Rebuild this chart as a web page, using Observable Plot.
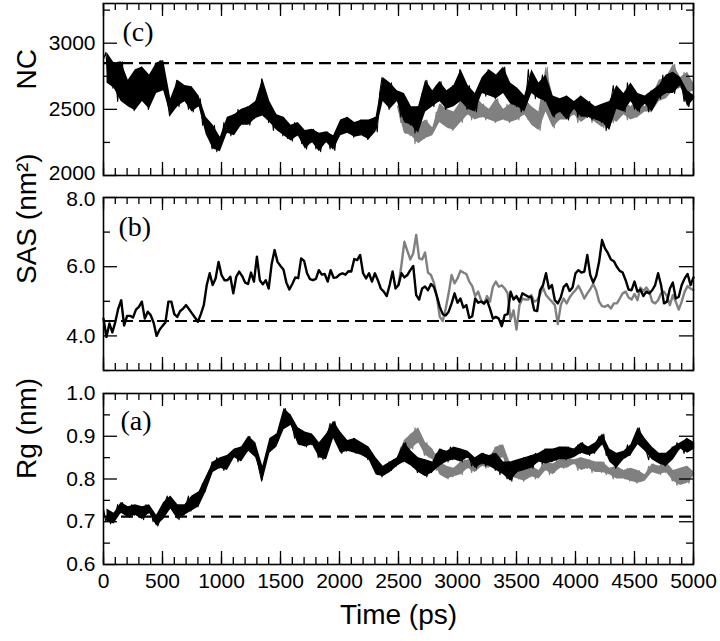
<!DOCTYPE html>
<html><head><meta charset="utf-8">
<script src="https://cdn.jsdelivr.net/npm/d3@7"></script>
<script src="https://cdn.jsdelivr.net/npm/@observablehq/plot@0.6"></script>
<style>
body{margin:0;background:#fff;}
#wrap{position:relative;width:720px;height:641px;background:#fff;}
#wrap svg{position:absolute;left:0;overflow:visible;}
</style></head><body><div id="wrap"></div>
<script>
// ---------------- DATA ----------------
const noisyStep = 20;   // ps between samples of NC and Rg traces
const sasStep = 25;     // ps between samples of SAS traces
const grayStart = 2500; // ps where the gray run begins

// (c) NC, black run, t = 0..5000
const ncBlack = [
2880,2930,2700,2850,2660, 2790,2560,2760,2860,2600, 2720,2520,2690,2490,2800, 2580,2820,2560,2700,2500,
2760,2620,2850,2700,2870, 2760,2640,2580,2450,2520, 2600,2720,2520,2680,2560, 2640,2500,2670,2480,2600,
2520,2580,2380,2440,2310, 2320,2200,2380,2180,2290, 2250,2400,2320,2440,2300, 2460,2350,2500,2380,2440,
2400,2520,2380,2490,2430, 2560,2480,2730,2450,2560, 2400,2500,2340,2460,2380, 2440,2300,2400,2280,2380,
2260,2400,2300,2360,2240, 2340,2200,2300,2250,2350, 2200,2320,2180,2300,2250, 2330,2200,2300,2190,2340,
2300,2420,2360,2440,2320, 2400,2290,2380,2330,2420, 2300,2380,2270,2420,2340, 2440,2330,2620,2740,2560,
2650,2500,2700,2560,2640, 2560,2440,2620,2400,2520, 2380,2480,2320,2520,2460, 2620,2480,2720,2560,2640,
2520,2680,2560,2710,2580, 2500,2640,2520,2680,2560, 2620,2800,2560,2640,2500, 2680,2540,2620,2480,2640,
2620,2740,2600,2800,2680, 2700,2580,2760,2620,2720, 2820,2600,2700,2540,2660, 2520,2640,2480,2600,2560,
2800,2620,2740,2580,2700, 2640,2760,2560,2700,2600, 2540,2440,2580,2480,2520, 2460,2600,2420,2540,2500,
2560,2440,2600,2480,2520, 2440,2560,2420,2520,2460, 2500,2400,2540,2340,2480, 2560,2680,2500,2640,2560,
2620,2480,2700,2560,2600, 2500,2620,2480,2580,2540, 2600,2480,2640,2520,2600, 2680,2580,2760,2620,2700,
2660,2780,2620,2740,2680, 2700,2560,2640,2520,2600, 2580];
// (c) NC, gray run, t = 2500..5000
const ncGray = [
2520,2400,2560,2320,2440, 2300,2420,2240,2380,2260, 2380,2280,2420,2300,2360, 2340,2480,2400,2540,2420,
2500,2360,2460,2340,2480, 2420,2560,2400,2520,2460, 2540,2420,2600,2460,2520, 2440,2540,2420,2500,2460,
2520,2400,2580,2440,2500, 2420,2540,2400,2500,2460, 2540,2420,2580,2460,2500, 2420,2520,2380,2480,2440,
2340,2480,2560,2820,2600, 2460,2360,2520,2420,2500, 2440,2560,2420,2520,2460, 2500,2400,2540,2440,2480,
2440,2540,2400,2500,2460, 2420,2520,2360,2480,2440, 2500,2400,2560,2440,2480, 2460,2560,2420,2520,2480,
2540,2440,2580,2480,2520, 2500,2600,2480,2580,2560, 2620,2720,2580,2740,2680, 2760,2640,2840,2680,2740,
2660,2780,2620,2740,2680, 2640];

// (b) SAS, black run, t = 0..5000
const sasBlack = [
4.50,3.97,4.36,4.10,4.40,4.79,5.03,4.30,4.58,4.58, 4.53,4.76,4.84,4.99,4.50,4.70,4.60,4.38,4.00,4.18,
4.29,4.39,4.99,4.99,4.63,4.55,4.72,4.79,4.89,4.77, 4.65,4.53,4.41,4.63,4.89,5.47,5.81,5.47,5.66,6.14,
5.76,5.61,5.61,5.71,5.23,5.71,5.86,5.73,5.54,5.50, 5.83,5.57,6.29,5.61,5.49,5.61,5.37,6.08,6.48,6.14,
6.02,5.92,5.54,5.34,5.50,5.69,5.67,6.24,6.17,5.81, 5.64,5.61,5.65,5.90,5.77,5.79,5.57,5.90,5.68,5.69,
5.77,5.81,5.77,5.87,5.86,6.22,6.19,6.34,
5.81,5.66,5.81,5.57,5.81,5.61,5.37,5.28,5.15,5.47, 5.86,5.37,5.47,5.81,5.69,5.76,5.90,6.02,5.18,5.05,
5.37,5.43,5.32,5.50,5.42,5.15,4.84,4.63,4.59,4.70, 4.94,5.23,4.96,5.08,4.82,4.89,4.52,4.57,5.08,4.96,
4.99,4.94,5.03,4.79,4.50,4.55,4.50,4.28,4.60,4.63, 5.28,5.05,5.15,4.99,5.23,5.18,5.13,5.13,4.74,4.72,
5.32,5.47,5.81,5.37,5.47,5.03,4.94,5.11,5.42,5.50, 5.30,5.40,5.81,5.90,5.83,5.86,6.34,5.76,5.54,5.73,
6.14,6.77,6.53,6.39,6.21,6.16,6.00,5.88,5.83,5.61, 5.34,5.32,5.57,5.28,5.34,5.15,5.28,5.23,5.32,5.47,
5.81,5.47,4.94,4.99,5.37,5.54,5.08,5.13,5.47,5.66, 5.79,5.47,5.69];
// (b) SAS, gray run, t = 2500..5000
const sasGray = [
5.47,6.05,6.72,6.46,6.21,6.39,6.92,6.24,6.21,6.41, 5.83,5.76,5.54,5.13,4.55,4.43,4.79,5.23,5.76,5.52,
5.66,5.88,5.83,5.79,5.57,5.44,5.15,5.28,5.03,4.92, 5.15,4.99,5.42,5.57,5.42,5.46,5.37,5.23,4.47,4.74,
4.18,4.89,5.08,5.05,5.05,5.18,4.99,5.03,5.21,5.40, 5.18,5.08,4.99,4.89,4.34,4.89,5.08,4.94,5.11,5.23,
5.32,5.45,5.28,5.08,5.23,5.35,5.50,5.32,4.99,4.86, 4.84,4.89,4.79,4.94,4.94,5.08,5.23,5.28,5.11,5.05,
5.21,5.03,5.40,5.30,5.40,5.28,4.99,4.94,5.03,5.23, 5.28,5.15,4.89,5.18,4.99,4.76,4.99,5.28,5.44,5.37,
5.32];

// (a) Rg, black run, t = 0..5000
const rgBlack = [
.730,.700,.725,.695,.720, .715,.740,.720,.745,.725, .735,.710,.740,.715,.730, .710,.735,.705,.740,.720,
.725,.700,.715,.690,.705, .715,.745,.760,.730,.750, .720,.740,.705,.735,.715, .740,.760,.725,.755,.745,
.735,.770,.790,.770,.805, .815,.840,.820,.850,.825, .845,.820,.855,.835,.860, .850,.870,.840,.875,.855,
.880,.865,.900,.870,.885, .850,.820,.795,.830,.860, .870,.895,.875,.905,.890, .915,.935,.965,.940,.950,
.925,.895,.920,.880,.910, .895,.875,.905,.880,.900, .885,.850,.875,.845,.880, .905,.930,.895,.935,.910,
.880,.860,.890,.865,.880, .870,.895,.860,.885,.870, .855,.875,.845,.865,.850, .835,.810,.830,.805,.825,
.815,.840,.820,.845,.830, .850,.870,.840,.885,.860, .865,.830,.850,.815,.835, .820,.845,.805,.830,.815,
.840,.860,.830,.870,.850, .865,.840,.875,.845,.860, .845,.870,.840,.865,.850, .855,.830,.850,.825,.845,
.835,.860,.830,.855,.840, .860,.820,.845,.810,.840, .825,.800,.840,.795,.825, .815,.845,.820,.850,.830,
.835,.855,.825,.860,.840, .855,.835,.870,.845,.860, .840,.870,.845,.875,.855, .865,.845,.875,.850,.870,
.855,.880,.860,.885,.865, .875,.855,.880,.860,.885, .900,.880,.905,.855,.870, .840,.860,.825,.855,.845,
.865,.850,.880,.855,.870, .880,.905,.920,.895,.875, .865,.845,.875,.850,.860, .855,.835,.860,.830,.850,
.845,.875,.860,.885,.870, .880,.860,.895,.865,.885, .870];
// (a) Rg, gray run, t = 2500..5000
const rgGray = [
.850,.875,.860,.890,.880, .905,.870,.920,.885,.900, .880,.855,.885,.850,.870, .845,.820,.840,.810,.830,
.820,.800,.825,.805,.815, .815,.840,.810,.845,.825, .835,.815,.845,.820,.840, .830,.855,.825,.850,.845,
.855,.875,.845,.880,.860, .850,.815,.835,.805,.830, .820,.800,.835,.795,.815, .825,.805,.830,.800,.820,
.815,.840,.820,.835,.810, .835,.815,.845,.825,.840, .825,.850,.830,.845,.835, .840,.820,.850,.830,.840,
.825,.845,.815,.840,.830, .835,.815,.840,.810,.825, .820,.800,.830,.805,.815, .820,.800,.825,.795,.810,
.815,.790,.820,.795,.810, .805,.830,.815,.835,.820, .830,.810,.840,.815,.830, .820,.795,.815,.785,.805,
.825,.800,.830,.790,.810, .815];

// Dashed reference levels
const ncRef = 2850;
const sasRef = 4.43;
const rgRef = 0.712;

// Ticks
const xMajor = [0,500,1000,1500,2000,2500,3000,3500,4000,4500,5000];
const xMinor = d3.range(0, 5001, 100);
const ncMajor = [2000,2500,3000], ncMinor = [2250,2750,3250];
const sasMajor = [4,6,8], sasMinor = [3,5,7];
const rgMajor = [0.6,0.7,0.8,0.9,1.0], rgMinor = [0.65,0.75,0.85,0.95];

// ---------------- DRAWING ----------------
const toRows = (arr, step, t0 = 0) => arr.map((v, i) => ({t: t0 + i * step, v}));
const W = 720, ML = 103, MR = 27, FW = W - ML - MR;
const SANS = "'Liberation Sans', Arial, Helvetica, sans-serif";
const SERIF = "'Liberation Serif', 'Times New Roman', serif";

// a dense trace: min–max band of the samples (Plot's binX) plus the raw line
function trace(rows, color, lw, dense) {
  const out = [];
  if (dense) out.push(Plot.areaY(rows, Plot.binX({y1: "min", y2: "max"}, {x: "t", y1: "v", y2: "v", interval: 60, fill: color})));
  out.push(Plot.line(rows, {x: "t", y: "v", stroke: color, strokeWidth: lw}));
  return out;
}

function panel(o) {
  const FH = o.height - o.mt - o.mb;
  const lab = o.labels;
  const first = lab[0], last = lab[lab.length - 1];
  const yTickText = {tickSize: 0, tickPadding: 8, tickFormat: o.fmt, fontSize: 21, label: null};
  const marks = [
    Plot.ruleY([o.ref], {stroke: "#000", strokeWidth: 2.2, strokeDasharray: "12,6"}),
    ...trace(toRows(o.gray, o.step, grayStart), "#808080", o.lw, o.dense),
    ...trace(toRows(o.black, o.step), "#000", o.lw, o.dense),
    Plot.tickX(xMajor, {x: d => d, insetTop: FH - 13, strokeWidth: 1.3}),
    Plot.tickX(xMajor, {x: d => d, insetBottom: FH - 13, strokeWidth: 1.3}),
    Plot.tickX(xMinor, {x: d => d, insetTop: FH - 7, strokeWidth: 1.3}),
    Plot.tickX(xMinor, {x: d => d, insetBottom: FH - 7, strokeWidth: 1.3}),
    Plot.tickY(o.major, {y: d => d, insetRight: FW - 14, strokeWidth: 1.3}),
    Plot.tickY(o.major, {y: d => d, insetLeft: FW - 14, strokeWidth: 1.3}),
    Plot.tickY(o.minor, {y: d => d, insetRight: FW - 7, strokeWidth: 1.3}),
    Plot.tickY(o.minor, {y: d => d, insetLeft: FW - 7, strokeWidth: 1.3}),
    Plot.axisY(lab.slice(1, -1), yTickText),
    Plot.axisY([first], {...yTickText, dy: o.firstDy || 0}),
    Plot.axisY([last], {...yTickText, dy: o.lastDy || 0}),
    Plot.text([o.title], {frameAnchor: "left", dx: -76, rotate: -90, fontSize: 28, fill: "#000"}),
    Plot.text([o.letter], {frameAnchor: "top-left", dx: o.ldx, dy: o.ldy, textAnchor: "start", lineAnchor: "middle", fontSize: 28, fontFamily: SERIF, fill: "#000"}),
    Plot.frame({stroke: "#000", strokeWidth: 1.6})
  ];
  if (o.bottom) {
    marks.push(Plot.axisX(xMajor, {tickSize: 0, tickPadding: 9, fontSize: 21, tickFormat: d => String(d), label: null}));
    marks.push(Plot.text(["Time (ps)"], {frameAnchor: "bottom", dy: 59, fontSize: 28, fill: "#000"}));
  }
  const svg = Plot.plot({
    width: W, height: o.height,
    marginLeft: ML, marginRight: MR, marginTop: o.mt, marginBottom: o.mb,
    style: {fontFamily: SANS, color: "#000", background: "transparent", overflow: "visible"},
    x: {domain: [0, 5000], axis: o.bottom ? undefined : null},
    y: {domain: o.domain},
    marks
  });
  svg.style.top = o.top + "px";
  document.getElementById("wrap").appendChild(svg);
}

panel({top: 0, height: 178, mt: 3, mb: 3, domain: [2000, 3300], black: ncBlack, gray: ncGray, step: noisyStep,
  lw: 1.1, dense: true, ref: ncRef, major: ncMajor, minor: ncMinor, labels: ncMajor, fmt: d => String(d),
  firstDy: -2, title: "NC", letter: "(c)", ldx: 19, ldy: 29});
panel({top: 187, height: 186, mt: 10, mb: 3, domain: [3, 8], black: sasBlack, gray: sasGray, step: sasStep,
  lw: 2.4, dense: false, ref: sasRef, major: sasMajor, minor: sasMinor, labels: sasMajor, fmt: d3.format(".1f"),
  lastDy: 2, title: "SAS (nm²)", letter: "(b)", ldx: 15, ldy: 30});
panel({top: 383, height: 258, mt: 10, mb: 77, domain: [0.6, 1.0], black: rgBlack, gray: rgGray, step: noisyStep,
  lw: 1.1, dense: true, ref: rgRef, major: rgMajor, minor: rgMinor, labels: rgMajor, fmt: d3.format(".1f"),
  title: "Rg (nm)", letter: "(a)", ldx: 17, ldy: 28, bottom: true});
</script></body></html>
